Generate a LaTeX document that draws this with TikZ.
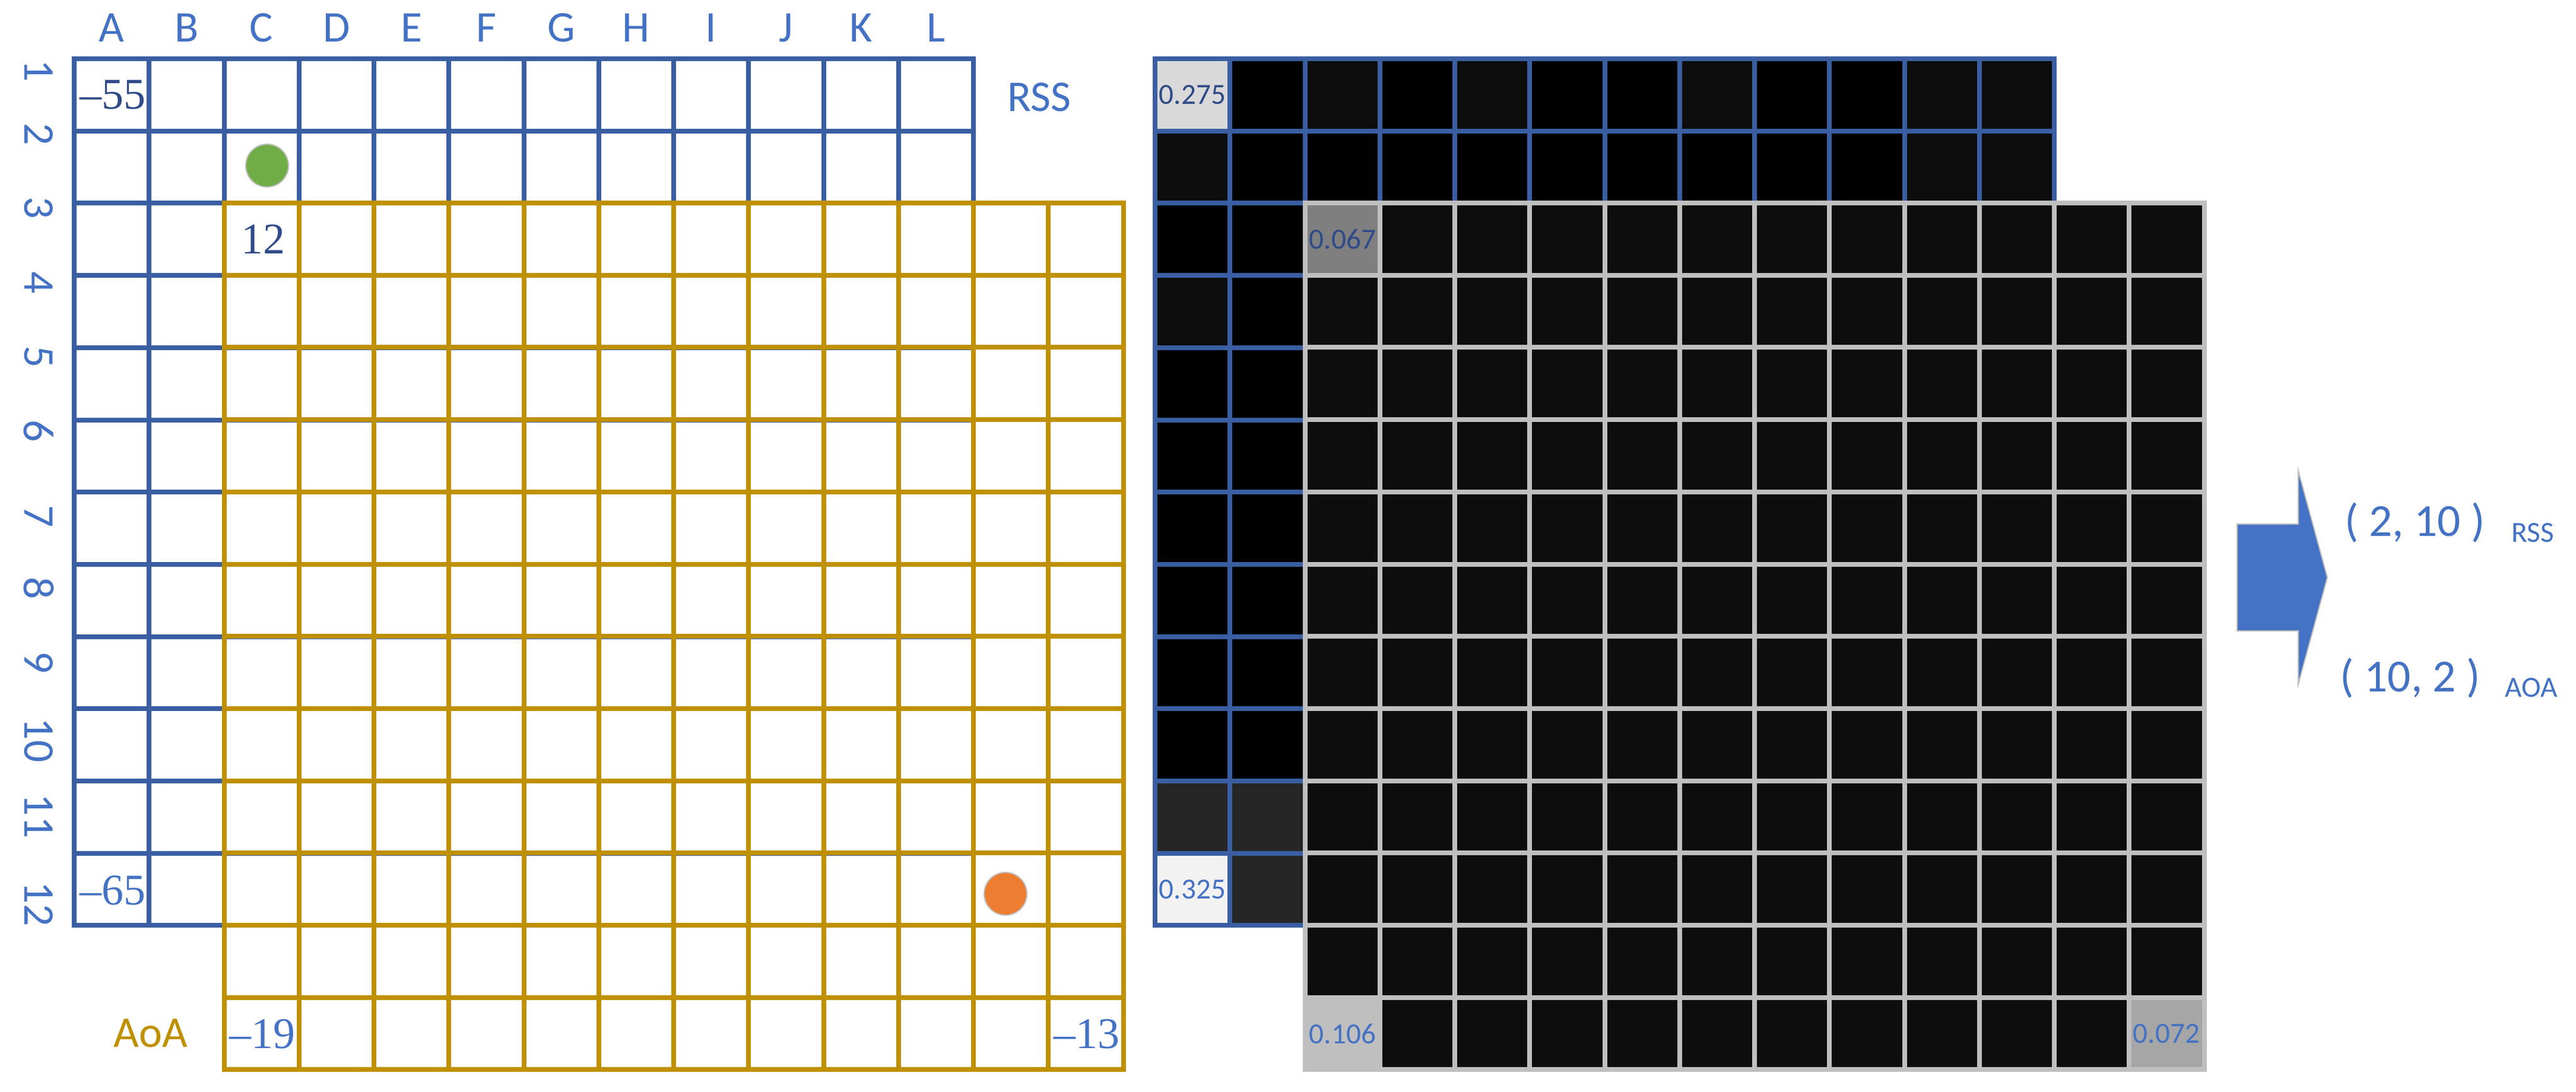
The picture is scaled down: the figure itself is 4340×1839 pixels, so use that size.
\documentclass[tikz,border=0pt]{standalone}
\usepackage{fontspec}
\setmainfont{Carlito}
\newfontfamily\numfont{Liberation Serif}

\definecolor{gridblue}{RGB}{58,94,162}
\definecolor{lblue}{RGB}{68,114,196}
\definecolor{navy}{RGB}{47,75,135}
\definecolor{gold}{RGB}{191,144,0}
\definecolor{dotgreen}{RGB}{112,173,71}
\definecolor{dotorange}{RGB}{237,125,49}
\definecolor{rim}{RGB}{191,191,191}
\definecolor{nearblack}{RGB}{13,13,13}
\definecolor{darkcell}{RGB}{38,38,38}
\definecolor{cellD9}{RGB}{217,217,217}
\definecolor{cellF2}{RGB}{242,242,242}
\definecolor{cell7F}{RGB}{127,127,127}
\definecolor{cellA6}{RGB}{166,166,166}

\newcommand{\cellw}{126.25}
\newcommand{\cellh}{121.7}
% fill one cell: origin x, origin y, column, row, colour
\newcommand{\cellfill}[5]{\fill[#5] ({#1+#3*\cellw},{#2+#4*\cellh}) rectangle ++(\cellw,\cellh);}

\begin{document}
\begin{tikzpicture}[x=0.01cm, y=-0.01cm,
        lbl/.style = {text=lblue, inner sep=0pt,
            font=\fontsize{21}{21}\selectfont},
        res/.style = {text=lblue, inner sep=0pt, anchor=base west,
            font=\fontsize{22}{22}\selectfont},
        num/.style = {inner sep=0pt,
            font=\numfont\fontsize{21}{21}\selectfont},
        heat/.style = {inner sep=0pt,
            font=\fontsize{14}{14}\selectfont},
        dot/.style = {circle, inner sep=0pt,
            minimum size=0.72cm,
            draw=rim, line width=0.02cm},
        gline/.style = {line width=0.08cm, line cap=rect}]

    \useasboundingbox (0,0) rectangle (4340,1839);

    % RSS grid
    \foreach \i in {0,...,12} {
        \draw[gline, gridblue] ({125+\i*\cellw},99) -- ({125+\i*\cellw},{99+12*\cellh});
        \draw[gline, gridblue] (125,{99+\i*\cellh}) -- ({125+12*\cellw},{99+\i*\cellh});
    }

    % AoA grid
    \foreach \i in {0,...,12} {
        \draw[gline, gold] ({377.5+\i*\cellw},342) -- ({377.5+\i*\cellw},{342+12*\cellh});
        \draw[gline, gold] (377.5,{342+\i*\cellh}) -- ({377.5+12*\cellw},{342+\i*\cellh});
    }

    % Column and row labels
    \foreach \lt [count=\i from 0] in {A,B,C,D,E,F,G,H,I,J,K,L}
        \node[lbl] (col\lt) at ({125+(\i+0.5)*\cellw},47) {\lt};
    \foreach \n/\y in {1/119,2/226,3/350,4/476,5/601,6/726,7/870,8/991,9/1116,10/1247,11/1375,12/1523}
        \node[lbl, rotate=-90] (row\n) at (65,\y) {\n};

    \node[lbl] (rsslbl) at (1751,164) {RSS};
    \node[lbl, text=gold] (aoalbl) at (254,1741) {AoA};

    % Values in the grids
    \node[num, text=navy] (rssa) at (190,160) {–55};
    \node[num, text=lblue] (rssb) at (190,1500) {–65};
    \node[num, text=navy] (aoac) at (443,403) {12};
    \node[num, text=lblue] (aoaa) at (442,1742) {–19};
    \node[num, text=lblue] (aoab) at (1831,1742) {–13};

    % Positions
    \node[dot, fill=dotgreen] (rsspos) at (450,279) {};
    \node[dot, fill=dotorange] (aoapos) at (1694,1506) {};

    % RSS map
    \fill[black] (1946,99) rectangle ++({12*\cellw},{12*\cellh});
    \foreach \cc/\rr in {2/0,4/0,7/0,10/0,11/0,0/1,10/1,11/1,0/3} {
        \cellfill{1946}{99}{\cc}{\rr}{nearblack}
    }
    \foreach \cc/\rr in {0/10,1/10,1/11} {
        \cellfill{1946}{99}{\cc}{\rr}{darkcell}
    }
    \cellfill{1946}{99}{0}{0}{cellD9}
    \cellfill{1946}{99}{0}{11}{cellF2}
    \foreach \i in {0,...,12} {
        \draw[gline, gridblue] ({1946+\i*\cellw},99) -- ({1946+\i*\cellw},{99+12*\cellh});
        \draw[gline, gridblue] (1946,{99+\i*\cellh}) -- ({1946+12*\cellw},{99+\i*\cellh});
    }

    % AOA map
    \fill[nearblack] (2198.5,342) rectangle ++({12*\cellw},{12*\cellh});
    \cellfill{2198.5}{342}{0}{0}{cell7F}
    \cellfill{2198.5}{342}{0}{11}{rim}
    \cellfill{2198.5}{342}{11}{11}{cellA6}
    \foreach \i in {0,...,12} {
        \draw[gline, rim] ({2198.5+\i*\cellw},342) -- ({2198.5+\i*\cellw},{342+12*\cellh});
        \draw[gline, rim] (2198.5,{342+\i*\cellh}) -- ({2198.5+12*\cellw},{342+\i*\cellh});
    }

    \node[heat, text=navy] (mapa) at (2009,160) {0.275};
    \node[heat, text=lblue] (mapb) at (2009,1499) {0.325};
    \node[heat, text=navy] (mapc) at (2262,403) {0.067};
    \node[heat, text=lblue] (mapd) at (2262,1742) {0.106};
    \node[heat, text=lblue] (mape) at (3650,1742) {0.072};

    % Arrow
    \filldraw[fill=lblue, draw=rim, line width=0.02cm]
        (3769,883) -- (3872,883) -- (3872,793) -- (3921,973)
        -- (3872,1153) -- (3872,1063) -- (3769,1063) -- cycle;

    % Results
    \node[res] (rsspair) at (3950,903) {( 2, 10 )};
    \node[heat, text=lblue, anchor=base west] (rsssub) at (4231,913) {RSS};
    \node[res] (aoapair) at (3942,1165) {( 10, 2 )};
    \node[heat, text=lblue, anchor=base west] (aoasub) at (4220,1174) {AOA};

\end{tikzpicture}
\end{document}
